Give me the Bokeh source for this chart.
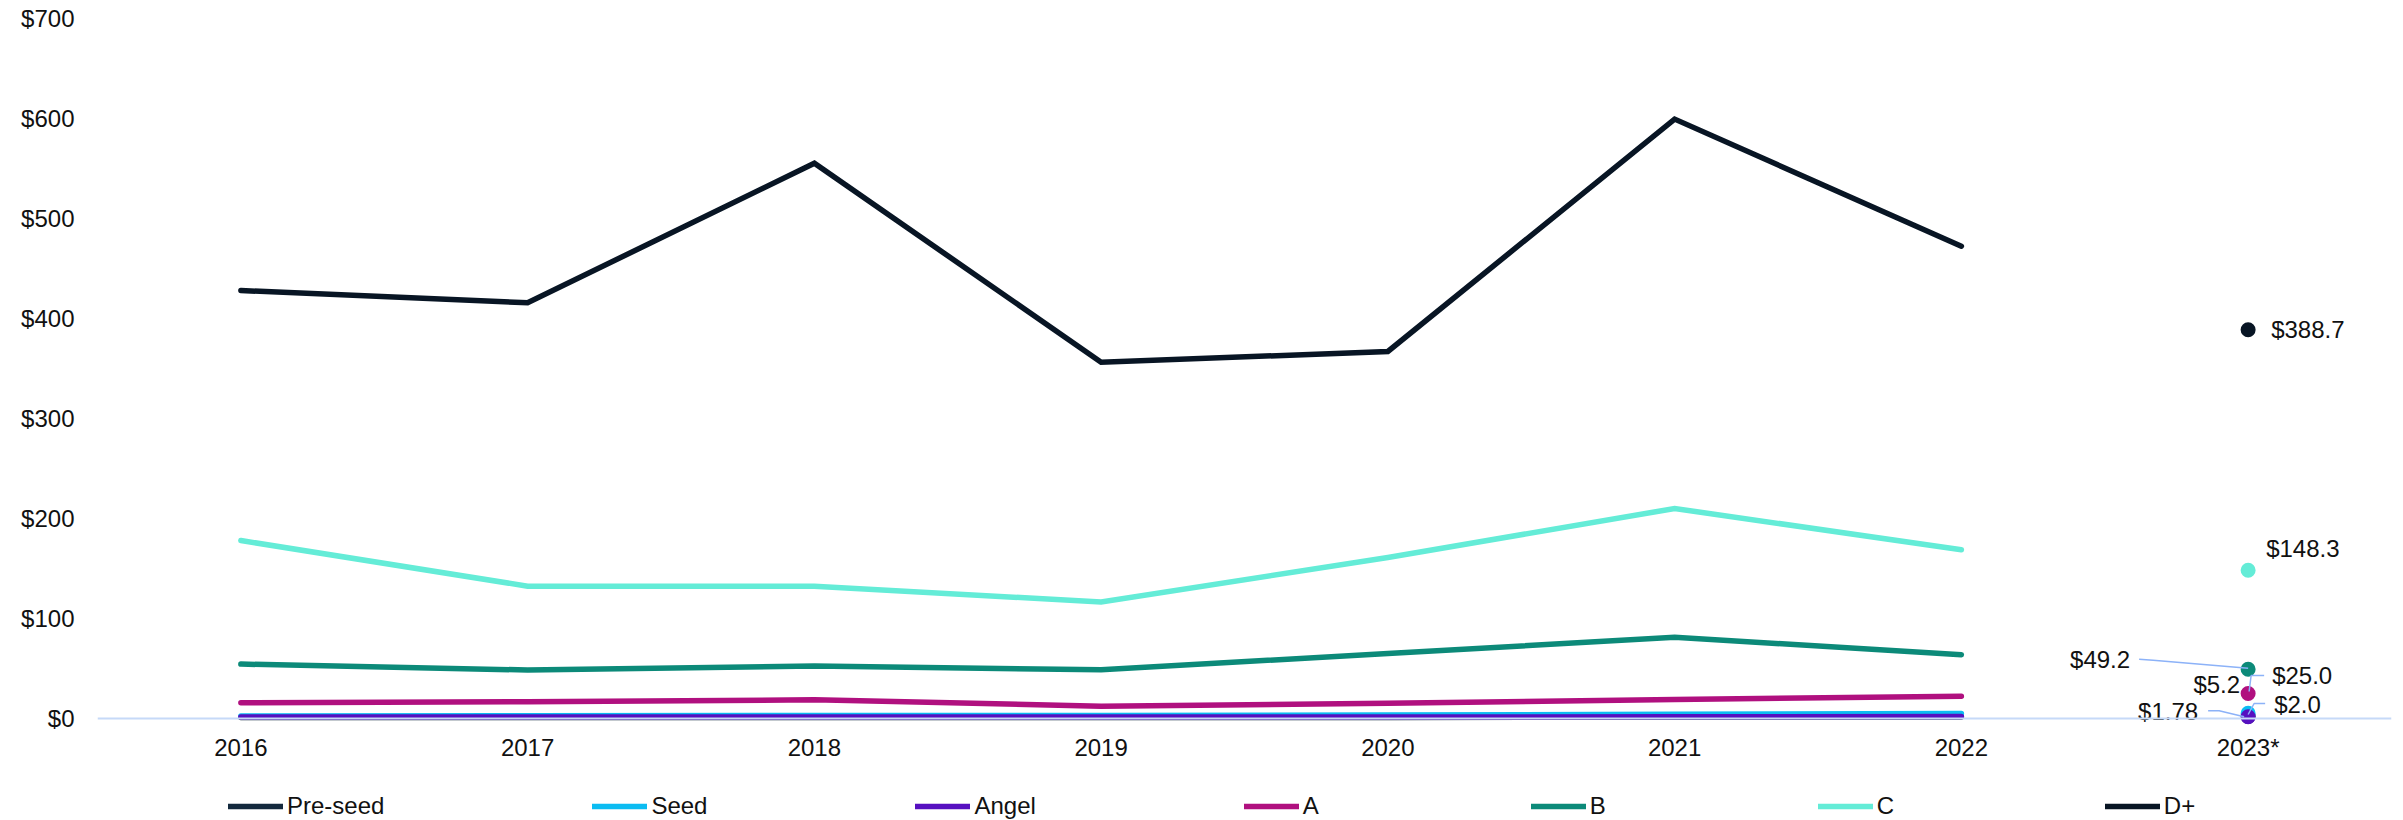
from bokeh.plotting import figure
from bokeh.models import (ColumnDataSource, Legend, LegendItem, NumeralTickFormatter,
                          FactorRange, Range1d, FixedTicker)
from bokeh.core.properties import value
from bokeh.embed import file_html
from bokeh.resources import INLINE

# ---------------- data ----------------
years = ["2016", "2017", "2018", "2019", "2020", "2021", "2022"]
latest_year = "2023*"
series_names = ["Pre-seed", "Seed", "Angel", "A", "B", "C", "D+"]

pre_seed = [1.0, 1.0, 1.1, 1.0, 1.1, 1.3, 1.5]
seed = [2.6, 2.8, 3.0, 2.9, 3.4, 4.2, 5.0]
angel = [1.4, 1.4, 1.5, 1.4, 1.5, 1.7, 1.9]
series_a = [15.7, 16.7, 18.7, 12.3, 15.3, 19.0, 22.3]
series_b = [54.4, 48.5, 52.5, 48.7, 65.0, 81.2, 63.8]
series_c = [178.0, 132.3, 132.3, 116.5, 161.0, 210.0, 168.7]
series_d = [428.0, 415.7, 555.3, 356.3, 367.0, 599.4, 472.3]

latest_values = [2.0, 5.2, 1.78, 25.0, 49.2, 148.3, 388.7]
latest_labels = ["$2.0", "$5.2", "$1.78", "$25.0", "$49.2", "$148.3", "$388.7"]

y_ticks = [0, 100, 200, 300, 400, 500, 600, 700]

# ---------------- styles ----------------
colors = ["#13293d", "#0bbcf2", "#5610c0", "#b0107f", "#0c8a79", "#64ecd7", "#081524"]
FONT = "Liberation Sans"
TXT = "#111111"
LEADER = "#8cb2f8"

# label placement (screen px offsets from the 2023 dot)
lab_dx = [26, -8, -50, 24, -118, 18, 23]
lab_dy = [-12, -29, -5, -18, -10, -22, 0]
lab_align = ["left", "right", "right", "left", "right", "left", "left"]

# leader lines (screen px offsets from the dot), keyed by series index
leaders = {
    0: [(17, -13), (6, -13), (0, -2)],
    2: [(-40, -6), (-29, -6), (-4, 0)],
    3: [(16, -18), (3, -18), (1, -2)],
    4: [(-109, -10), (-95, -9), (0, -1)],
}

W, H = 2403, 820
ML, MR, MT, MB = 97, 12, 18, 0
frame_w = W - ML - MR
frame_h = H - MT - MB
Y_TOP = 700
Y_BOTTOM = -(frame_h - Y_TOP)   # keeps 1 px per $1 with zero at the axis line

cats = years + [latest_year]
p = figure(x_range=FactorRange(*cats, range_padding=0), y_range=Range1d(Y_BOTTOM, Y_TOP),
           width=W, height=H, output_backend="svg", toolbar_location=None,
           min_border_left=ML, min_border_right=MR, min_border_top=MT, min_border_bottom=MB)
p.outline_line_color = None
p.xgrid.grid_line_color = None
p.ygrid.grid_line_color = None
p.background_fill_color = "white"
p.border_fill_color = "white"

# axes
p.yaxis.ticker = FixedTicker(ticks=y_ticks)
p.yaxis.formatter = NumeralTickFormatter(format="$0")
p.yaxis.axis_line_color = None
p.yaxis.major_tick_line_color = None
p.yaxis.minor_tick_line_color = None
p.yaxis.major_tick_out = 0
p.yaxis.major_tick_in = 0
p.yaxis.major_label_standoff = 23
p.yaxis.major_label_text_font = FONT
p.yaxis.major_label_text_font_size = "24px"
p.yaxis.major_label_text_color = TXT

p.xaxis.fixed_location = 0
p.xaxis.axis_line_color = "#c6d9f8"
p.xaxis.axis_line_width = 2
p.xaxis.major_tick_line_color = None
p.xaxis.minor_tick_line_color = None
p.xaxis.major_tick_out = 0
p.xaxis.major_tick_in = 0
p.xaxis.major_label_standoff = 15
p.xaxis.major_label_text_font = FONT
p.xaxis.major_label_text_font_size = "24px"
p.xaxis.major_label_text_color = TXT

all_series = [pre_seed, seed, angel, series_a, series_b, series_c, series_d]
renderers = []
for name, vals, col in zip(series_names, all_series, colors):
    r = p.line(x=years, y=vals, line_color=col, line_width=5.5,
               line_cap="round", line_join="miter")
    renderers.append(r)

# 2023 dots
dot_src = ColumnDataSource(dict(x=[latest_year] * len(latest_values), y=latest_values,
                                color=colors, label=latest_labels,
                                dx=lab_dx, dy=lab_dy, align=lab_align))
p.scatter(x="x", y="y", source=dot_src, size=15, fill_color="color", line_color=None)

# leader lines
px_per_cat = frame_w / len(cats)
units_per_px = (Y_TOP - Y_BOTTOM) / frame_h
center_latest = len(cats) - 0.5
xs, ys = [], []
for idx, pts in leaders.items():
    v = latest_values[idx]
    xs.append([center_latest + dx / px_per_cat for dx, dy in pts])
    ys.append([v - dy * units_per_px for dx, dy in pts])
p.multi_line(xs=xs, ys=ys, line_color=LEADER, line_width=1.5)

# value labels
p.text(x="x", y="y", text="label", source=dot_src, x_offset="dx", y_offset="dy",
       text_align="align", text_baseline="middle", text_font=value(FONT),
       text_font_size="24px", text_color=TXT)

legend = Legend(items=[LegendItem(label=n, renderers=[r]) for n, r in zip(series_names, renderers)],
                orientation="horizontal", location=(131, 0),
                glyph_width=55, glyph_height=24, label_height=24, label_standoff=4,
                spacing=208, padding=0, margin=0,
                label_text_font=FONT, label_text_font_size="24px", label_text_color=TXT,
                border_line_color=None, background_fill_alpha=0)
p.add_layout(legend)

open("out.html", "w").write(file_html(p, INLINE))
